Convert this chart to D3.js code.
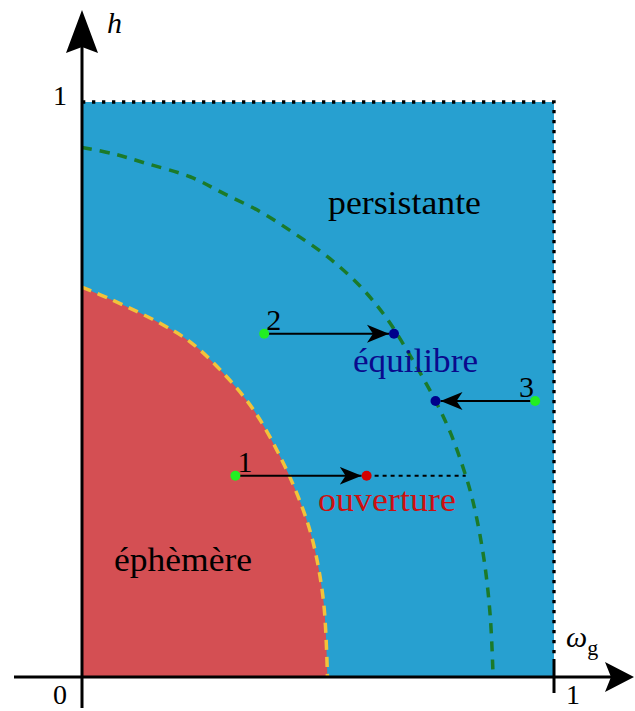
<!DOCTYPE html>
<html>
<head>
<meta charset="utf-8">
<script src="https://cdn.jsdelivr.net/npm/d3@7"></script>
<style>
  body { margin: 0; background: #fff; }
  svg text { font-family: "Liberation Serif", "DejaVu Serif", serif; }
</style>
</head>
<body>
<div id="chart"></div>
<script>
(function() {

  // boundary of the "éphèmère" region (omega_g, h)
  const redBoundary = [
    [0, 0.678], [0.063, 0.656], [0.159, 0.618], [0.229, 0.583], [0.300, 0.528],
    [0.364, 0.464], [0.420, 0.383], [0.463, 0.303], [0.490, 0.233], [0.512, 0.129],
    [0.520, 0]
  ];

  // equilibrium curve (green dashes)
  const greenBoundary = [
    [0, 0.921], [0.066, 0.910], [0.137, 0.893], [0.229, 0.870], [0.300, 0.841],
    [0.378, 0.809], [0.449, 0.772], [0.520, 0.731], [0.590, 0.679], [0.647, 0.622],
    [0.703, 0.548], [0.749, 0.480], [0.781, 0.424],
    [0.813, 0.350], [0.831, 0.296], [0.852, 0.203], [0.865, 0.105], [0.871, 0]
  ];

  // trajectories: start point -> end point
  const trajLabels = ["1", "2", "3"];
  const trajStartX = [0.325, 0.386, 0.960];
  const trajH      = [0.350, 0.597, 0.480];
  const trajEndX   = [0.603, 0.661, 0.749];
  const trajEndKind = ["ouverture", "equilibre", "equilibre"];
  const openingExtX = 0.813;   // dotted continuation of trajectory 1

  const axisTicks = [0, 1];

  let width = 635, height = 711;

  let svg = d3.select("#chart")
    .append("svg")
      .attr("width", width)
      .attr("height", height);

  let x = d3.scaleLinear().domain([0, 1]).range([82, 554]);
  let y = d3.scaleLinear().domain([0, 1]).range([677, 102]);

  let line = d3.line()
      .x(function(d) { return x(d[0]); })
      .y(function(d) { return y(d[1]); })
      .curve(d3.curveCatmullRom.alpha(0.5));

  // arrow head (stealth)
  let defs = svg.append("defs");
  defs.append("marker")
      .attr("id", "stealth")
      .attr("markerUnits", "userSpaceOnUse")
      .attr("viewBox", "-22 -10 24 20")
      .attr("refX", 0).attr("refY", 0)
      .attr("markerWidth", 24).attr("markerHeight", 20)
      .attr("orient", "auto")
    .append("path")
      .attr("d", "M0,0 L-22,-9 L-16,0 L-22,9 Z")
      .attr("fill", "#000");

  // blue domain
  svg.append("rect")
      .attr("x", x(0)).attr("y", y(1))
      .attr("width", x(1) - x(0))
      .attr("height", y(0) - y(1))
      .attr("fill", "#27a0d0");

  // red region
  svg.append("path")
      .attr("d", line(redBoundary) + "L" + x(0) + "," + y(0) + "Z")
      .attr("fill", "#d44f53");

  svg.append("path")
      .attr("d", line(redBoundary))
      .attr("fill", "none")
      .attr("stroke", "#f2c23a")
      .attr("stroke-width", 3.5)
      .attr("stroke-dasharray", "10 7");

  svg.append("path")
      .attr("d", line(greenBoundary))
      .attr("fill", "none")
      .attr("stroke", "#1b7a2a")
      .attr("stroke-width", 3.5)
      .attr("stroke-dasharray", "10 8");

  // dotted frame at h = 1 and omega_g = 1
  svg.append("path")
      .attr("d", "M" + x(0) + "," + y(1) + "H" + x(1) + "V" + (y(0) - 18))
      .attr("fill", "none")
      .attr("stroke", "#000")
      .attr("stroke-width", 3.3)
      .attr("stroke-dasharray", "3.3 6.7");

  // dotted continuation of trajectory 1
  svg.append("line")
      .attr("x1", x(trajEndX[0])).attr("x2", x(openingExtX))
      .attr("y1", y(trajH[0])).attr("y2", y(trajH[0]))
      .attr("stroke", "#000")
      .attr("stroke-width", 2)
      .attr("stroke-dasharray", "4 4");

  // trajectories
  let r = 5;
  let traj = svg.append("g").selectAll("g")
    .data(trajLabels.map(function(l, i) {
      return { label: l, x0: trajStartX[i], x1: trajEndX[i], h: trajH[i], kind: trajEndKind[i] };
    }))
    .enter().append("g");

  traj.append("line")
      .attr("x1", function(d) { return x(d.x0); })
      .attr("x2", function(d) { return x(d.x1) + (d.x1 > d.x0 ? -r : r); })
      .attr("y1", function(d) { return y(d.h); })
      .attr("y2", function(d) { return y(d.h); })
      .attr("stroke", "#000")
      .attr("stroke-width", 2)
      .attr("marker-end", "url(#stealth)");

  traj.append("circle")
      .attr("cx", function(d) { return x(d.x0); })
      .attr("cy", function(d) { return y(d.h); })
      .attr("r", r)
      .attr("fill", "#22ee22");

  traj.append("circle")
      .attr("cx", function(d) { return x(d.x1); })
      .attr("cy", function(d) { return y(d.h); })
      .attr("r", r)
      .attr("fill", function(d) { return d.kind === "ouverture" ? "#d40000" : "#00008b"; });

  traj.append("text")
      .attr("x", function(d) { return x(d.x0) + (d.x1 > d.x0 ? 2 : -16); })
      .attr("y", function(d) { return y(d.h) - 4; })
      .attr("font-size", 30)
      .attr("fill", "#000")
      .text(function(d) { return d.label; });

  // region labels
  let labels = svg.append("g").attr("font-size", 33);
  labels.append("text").attr("x", 328).attr("y", 214)
      .attr("textLength", 153).attr("lengthAdjust", "spacingAndGlyphs")
      .attr("fill", "#000").text("persistante");
  labels.append("text").attr("x", 353).attr("y", 372)
      .attr("textLength", 125).attr("lengthAdjust", "spacingAndGlyphs")
      .attr("fill", "#0a0a8c").text("équilibre");
  labels.append("text").attr("x", 318).attr("y", 511)
      .attr("textLength", 138).attr("lengthAdjust", "spacingAndGlyphs")
      .attr("fill", "#cc1010").text("ouverture");
  labels.append("text").attr("x", 114).attr("y", 571)
      .attr("textLength", 138).attr("lengthAdjust", "spacingAndGlyphs")
      .attr("fill", "#000").text("éphèmère");

  // axes
  let axes = svg.append("g").attr("stroke", "#000").attr("stroke-width", 3);
  axes.append("line")
      .attr("x1", 14).attr("x2", 615)
      .attr("y1", y(0)).attr("y2", y(0));
  axes.append("line")
      .attr("x1", x(0)).attr("x2", x(0))
      .attr("y1", 708).attr("y2", 30);
  axes.append("line")
      .attr("x1", x(1)).attr("x2", x(1))
      .attr("y1", y(0) - 18).attr("y2", y(0) + 16);

  svg.append("path")
      .attr("d", "M" + x(0) + ",10 L" + (x(0) - 16) + ",53 L" + x(0) + ",47 L" + (x(0) + 16) + ",53 Z")
      .attr("fill", "#000");
  svg.append("path")
      .attr("d", "M634," + y(0) + " L605," + (y(0) - 15) + " L611," + y(0) + " L605," + (y(0) + 15) + " Z")
      .attr("fill", "#000");

  // tick labels
  let tl = svg.append("g").attr("font-size", 28).attr("fill", "#000");
  tl.selectAll("text.xt")
    .data(axisTicks)
    .enter().append("text")
      .attr("class", "xt")
      .attr("x", function(d) { return d === 0 ? x(d) - 22 : x(d) + 19; })
      .attr("y", 704)
      .attr("text-anchor", "middle")
      .text(function(d) { return d; });
  tl.selectAll("text.yt")
    .data(axisTicks.filter(function(d) { return d > 0; }))
    .enter().append("text")
      .attr("class", "yt")
      .attr("x", x(0) - 22)
      .attr("y", function(d) { return y(d) + 3; })
      .attr("text-anchor", "middle")
      .text(function(d) { return d; });

  // axis names
  svg.append("text")
      .attr("x", 107).attr("y", 33)
      .attr("font-size", 30).attr("font-style", "italic")
      .text("h");
  let om = svg.append("text")
      .attr("x", 566).attr("y", 647)
      .attr("font-size", 30);
  om.append("tspan").attr("font-style", "italic").text("ω");
  om.append("tspan").attr("font-size", 22).attr("dy", 8).text("g");

})();
</script>
</body>
</html>
